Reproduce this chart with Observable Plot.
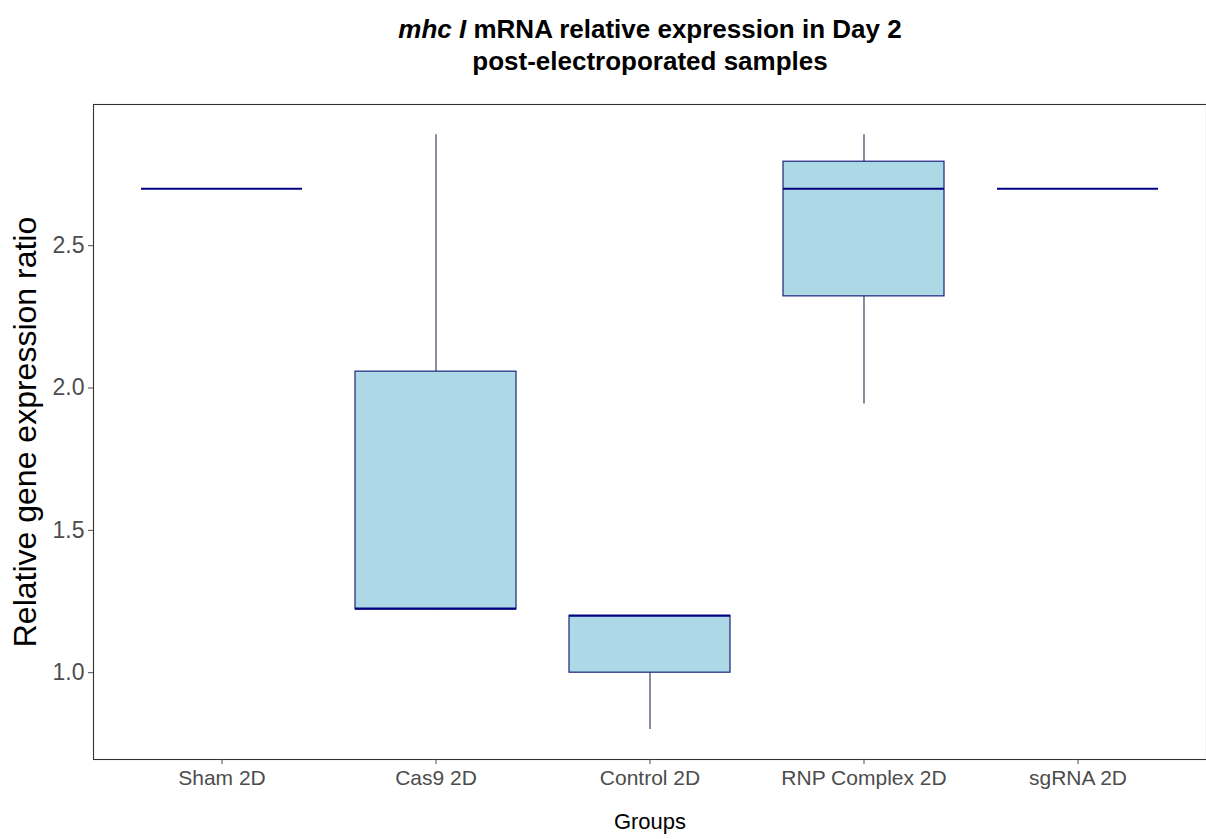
<!DOCTYPE html>
<html>
<head>
<meta charset="utf-8">
<script src="https://cdn.jsdelivr.net/npm/d3@7"></script>
<script src="https://cdn.jsdelivr.net/npm/@observablehq/plot@0.6"></script>
<style>
  html, body { margin: 0; padding: 0; background: #fff; overflow: hidden; }
  #wrap { width: 1206px; height: 839px; position: relative; font-family: "Liberation Sans", Arial, sans-serif; }
  #title { position: absolute; left: 0; top: 13px; width: 1206px; box-sizing: border-box; padding-left: 94px;
           text-align: center; font-weight: bold; font-size: 26px; line-height: 32px; color: #000; }
  #chart { position: absolute; left: 0; top: 0; }
</style>
</head>
<body>
<div id="wrap">
  <div id="title"><i>mhc I</i> mRNA relative expression in Day 2<br>post-electroporated samples</div>
  <div id="chart"></div>
</div>
<script>
const groups = ["Sham 2D", "Cas9 2D", "Control 2D", "RNP Complex 2D", "sgRNA 2D"];
const shamValues    = [2.70, 2.70, 2.70];
const cas9Values    = [1.22, 1.225, 2.89];
const controlValues = [0.80, 1.20, 1.20];
const rnpValues     = [1.944, 2.70, 2.89];
const sgrnaValues   = [2.70, 2.70, 2.70];
const yTicks = [1.0, 1.5, 2.0, 2.5];

const seriesValues = [shamValues, cas9Values, controlValues, rnpValues, sgrnaValues];
const stats = groups.map((g, i) => {
  const v = seriesValues[i].slice().sort(d3.ascending);
  const q1 = d3.quantile(v, 0.25), med = d3.quantile(v, 0.5), q3 = d3.quantile(v, 0.75);
  const iqr = q3 - q1;
  const lo = d3.min(v.filter(d => d >= q1 - 1.5 * iqr));
  const hi = d3.max(v.filter(d => d <= q3 + 1.5 * iqr));
  return {group: g, q1, med, q3, lo, hi};
});

const chart = Plot.plot({
  width: 1206,
  height: 839,
  marginTop: 104,
  marginBottom: 80,
  marginLeft: 93,
  marginRight: 0,
  style: {fontFamily: "'Liberation Sans', Arial, sans-serif", background: "transparent"},
  x: {type: "band", domain: groups, paddingInner: 0.25, paddingOuter: 0.225},
  y: {domain: [0.695, 2.996]},
  marks: [
    Plot.ruleX(stats, {x: "group", y1: "lo", y2: "hi", stroke: "#2b2b55", strokeWidth: 1.1}),
    Plot.barY(stats, {x: "group", y1: "q1", y2: "q3", fill: "#add8e6", stroke: "#1a237e", strokeWidth: 1.2}),
    Plot.tickY(stats, {x: "group", y: "med", stroke: "#000080", strokeWidth: 2.2}),
    Plot.frame({stroke: "#333", strokeWidth: 1.1}),
    Plot.axisY({ticks: yTicks, tickFormat: d3.format(".1f"), label: null, fontSize: 23, color: "#4d4d4d", tickSize: 5, tickPadding: 4}),
    Plot.axisY({ticks: [], label: "Relative gene expression ratio", labelAnchor: "center", labelOffset: 80, labelArrow: false, fontSize: 32, color: "#000"}),
    Plot.axisX({label: null, fontSize: 21, color: "#4d4d4d", tickSize: 5, tickPadding: 6}),
    Plot.axisX({ticks: [], label: "Groups", labelAnchor: "center", labelOffset: 69, labelArrow: false, fontSize: 22, color: "#000"})
  ]
});
document.getElementById("chart").appendChild(chart);
</script>
</body>
</html>
